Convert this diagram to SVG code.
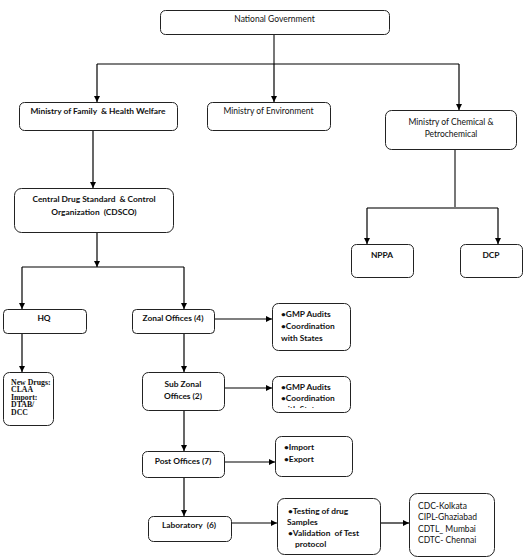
<svg xmlns="http://www.w3.org/2000/svg" width="525" height="560" viewBox="0 0 525 560">
<style>
text{white-space:pre}
.box{fill:#fff;stroke:#222;stroke-width:1}
.t{font-family:Lato,"Liberation Sans",sans-serif;font-size:8.5px;fill:#111}
.c{text-anchor:middle}
.b{font-weight:bold;font-size:8.4px}
.s{font-family:"Liberation Serif",serif;font-weight:bold;font-size:7.8px;fill:#111}
.ln{fill:none;stroke:#000;stroke-width:1.2}
.gr{fill:none;stroke:#777;stroke-width:2}
.ar{marker-end:url(#ah)}
</style>
<defs>
<marker id="ah" markerUnits="userSpaceOnUse" markerWidth="7" markerHeight="7" refX="6" refY="3" orient="auto">
<path d="M0,0 L6,3 L0,6 z" fill="#000"/>
</marker>
<clipPath id="cg2"><rect x="272" y="376" width="78" height="32"/></clipPath>
</defs>

<g id="connectors">
<path class="gr" d="M274,34 V64"/>
<path class="ln" d="M97,64 H459"/>
<path class="ln ar" d="M97,64 V102"/>
<path class="ln ar" d="M274,64 V102"/>
<path class="ln ar" d="M459,64 V110"/>
<path class="ln ar" d="M93,130 V188"/>
<path class="ln ar" d="M97,232 V267"/>
<path class="ln" d="M22,267 H184"/>
<path class="ln ar" d="M22,267 V309"/>
<path class="ln ar" d="M184,267 V309"/>
<path class="gr" d="M455,149 V208 M367,208 H498"/>
<path class="ln ar" d="M367,208 V244"/>
<path class="ln ar" d="M498,208 V244"/>
<path class="ln ar" d="M214,319 H272"/>
<path class="ln ar" d="M22,333 V372"/>
<path class="ln ar" d="M184,333 V372"/>
<path class="ln ar" d="M224,388 H272"/>
<path class="ln ar" d="M184,410 V451"/>
<path class="ln ar" d="M224,462 H275"/>
<path class="ln ar" d="M184,477 V516"/>
<path class="ln ar" d="M231,523 H277"/>
<path class="ln ar" d="M380,523 H409"/>
</g>

<g id="national-government">
<rect class="box" x="160.5" y="10.5" width="229" height="24" rx="5"/>
<text class="t c" x="274.5" y="22">National Government</text>
</g>
<g id="ministry-family">
<rect class="box" x="19.5" y="102.5" width="158" height="28" rx="5"/>
<text class="t c b" x="98" y="114">Ministry of Family  &amp; Health Welfare</text>
</g>
<g id="ministry-environment">
<rect class="box" x="207.5" y="102.5" width="123" height="28" rx="5"/>
<text class="t c" x="268.5" y="114">Ministry of Environment</text>
</g>
<g id="ministry-chemical">
<rect class="box" x="385.5" y="110.5" width="131" height="39" rx="6"/>
<text class="t c" x="451" y="125">Ministry of Chemical &amp;</text>
<text class="t c" x="451" y="137">Petrochemical</text>
</g>
<g id="cdsco">
<rect class="box" x="14.5" y="188.5" width="159" height="44" rx="7"/>
<text class="t c b" x="94" y="202">Central Drug Standard  &amp; Control</text>
<text class="t c b" x="94" y="215">Organization  (CDSCO)</text>
</g>
<g id="nppa">
<rect class="box" x="351.5" y="244.5" width="62" height="33" rx="5"/>
<text class="t c b" x="382" y="258">NPPA</text>
</g>
<g id="dcp">
<rect class="box" x="460.5" y="244.5" width="62" height="33" rx="5"/>
<text class="t c b" x="491" y="258">DCP</text>
</g>
<g id="hq">
<rect class="box" x="3.5" y="309.5" width="83" height="24" rx="4"/>
<text class="t c b" x="44" y="321">HQ</text>
</g>
<g id="zonal-offices">
<rect class="box" x="132.5" y="309.5" width="82" height="24" rx="4"/>
<text class="t c b" x="173" y="321">Zonal Offices (4)</text>
</g>
<g id="gmp-zonal">
<rect class="box" x="272.5" y="303.5" width="78" height="47" rx="6"/>
<text class="t b" x="281" y="317">•GMP Audits</text>
<text class="t b" x="281" y="329">•Coordination</text>
<text class="t b" x="281" y="341">with States</text>
</g>
<g id="new-drugs">
<rect class="box" x="3.5" y="372.5" width="50" height="53" rx="6"/>
<text class="s" x="11" y="384.5">New Drugs:</text>
<text class="s" x="11" y="392">CLAA</text>
<text class="s" x="11" y="399.5">Import:</text>
<text class="s" x="11" y="407">DTAB/</text>
<text class="s" x="11" y="414.5">DCC</text>
</g>
<g id="sub-zonal">
<rect class="box" x="142.5" y="372.5" width="82" height="38" rx="6"/>
<text class="t c b" x="183" y="387">Sub Zonal</text>
<text class="t c b" x="183" y="399">Offices (2)</text>
</g>
<g id="gmp-subzonal">
<rect class="box" x="272.5" y="376.5" width="78" height="36" rx="6"/>
<g clip-path="url(#cg2)">
<text class="t b" x="281" y="390">•GMP Audits</text>
<text class="t b" x="281" y="401">•Coordination</text>
<text class="t b" x="281" y="412">with States</text>
</g>
</g>
<g id="post-offices">
<rect class="box" x="142.5" y="451.5" width="82" height="26" rx="5"/>
<text class="t c b" x="183" y="464">Post Offices (7)</text>
</g>
<g id="import-export">
<rect class="box" x="275.5" y="436.5" width="77" height="40" rx="6"/>
<text class="t b" x="284" y="450">•Import</text>
<text class="t b" x="284" y="462">•Export</text>
</g>
<g id="laboratory">
<rect class="box" x="148.5" y="516.5" width="83" height="25" rx="5"/>
<text class="t c b" x="189" y="528">Laboratory  (6)</text>
</g>
<g id="testing">
<rect class="box" x="277.5" y="498.5" width="103" height="56" rx="7"/>
<text class="t b" x="288" y="514">•Testing of drug</text>
<text class="t b" x="287" y="525">Samples</text>
<text class="t b" x="288" y="536">•Validation  of Test</text>
<text class="t b" x="295" y="547">protocol</text>
</g>
<g id="labs">
<rect class="box" x="409.5" y="493.5" width="85" height="63" rx="8"/>
<text class="t" x="418" y="509">CDC-Kolkata</text>
<text class="t" x="418" y="520">CIPL-Ghaziabad</text>
<text class="t" x="418" y="532">CDTL_ Mumbai</text>
<text class="t" x="418" y="543">CDTC- Chennai</text>
</g>
</svg>
